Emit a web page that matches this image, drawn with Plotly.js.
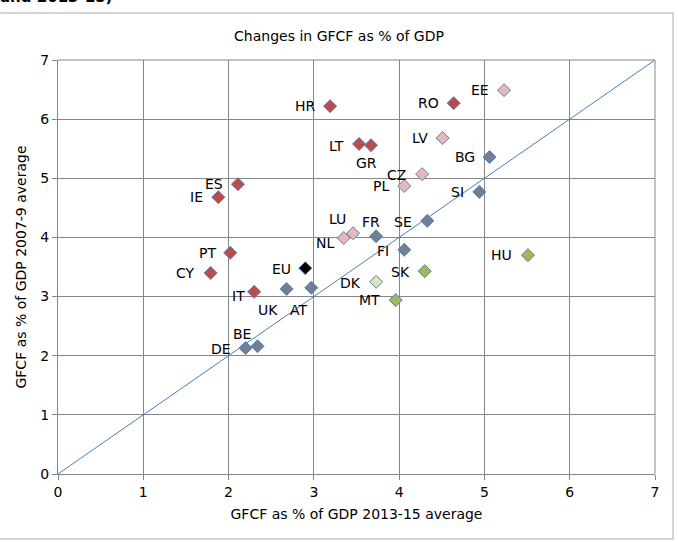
<!DOCTYPE html>
<html>
<head>
<meta charset="utf-8">
<script src="https://cdn.plot.ly/plotly-3.0.1.min.js"></script>
<style>html,body{margin:0;padding:0;background:#fff;}#chart{width:678px;height:542px;}</style>
</head>
<body>
<div id="chart"></div>
<script>
// Group 1: red
const redLabels = ["HR","RO","LT","GR","ES","IE","PT","CY","IT"];
const redX = [3.19,4.64,3.53,3.67,2.11,1.88,2.02,1.79,2.30];
const redY = [6.22,6.27,5.58,5.56,4.90,4.68,3.74,3.40,3.08];

// Group 2: pink
const pinkLabels = ["EE","LV","CZ","PL","LU","NL"];
const pinkX = [5.23,4.51,4.27,4.06,3.46,3.35];
const pinkY = [6.49,5.68,5.07,4.87,4.07,3.99];

// Group 3: grey-blue
const greyLabels = ["BG","SI","FR","SE","FI","UK","AT","BE","DE"];
const greyX = [5.06,4.94,3.73,4.33,4.06,2.68,2.97,2.34,2.20];
const greyY = [5.36,4.77,4.02,4.28,3.79,3.13,3.15,2.16,2.13];

// Group 4: green
const greenLabels = ["HU","SK","MT"];
const greenX = [5.51,4.30,3.96];
const greenY = [3.70,3.43,2.94];

// Group 5: light green
const lgLabels = ["DK"];
const lgX = [3.73];
const lgY = [3.25];

// EU
const euLabels = ["EU"];
const euX = [2.90];
const euY = [3.48];

// 45-degree reference line
const lineX = [0,7];
const lineY = [0,7];

const ticks = [0,1,2,3,4,5,6,7];

// label placement (anchor, pixel shifts) — styling only
const labelPlace = {
  HR:["right",-12,0], RO:["right",-13,0], EE:["right",-13,0], LT:["right",-13,-2],
  GR:["center",-5,-18], LV:["right",-13,0], BG:["right",-13,0], CZ:["right",-14,-1],
  PL:["right",-13,0], SI:["right",-13,0], ES:["right",-13,0], IE:["right",-13,0],
  LU:["right",-5,14], NL:["right",-8,-5], FR:["center",-5,14], SE:["right",-13,-1],
  FI:["right",-13,-1], HU:["right",-14,0], SK:["right",-13,-1], DK:["right",-13,-1],
  MT:["right",-14,0], EU:["right",-12,-1], PT:["right",-12,0], CY:["right",-14,0],
  IT:["right",-7,-4], UK:["right",-7,-21], AT:["right",-2,-22], BE:["right",-5,12],
  DE:["right",-13,-1]
};

const FONT = "Verdana, 'DejaVu Sans', sans-serif";
const border = "#5B7DB5";

function grp(labels,x,y,fill){
  return {type:"scatter",mode:"markers",x:x,y:y,text:labels,
    marker:{symbol:"diamond",size:10,color:fill,line:{color:border,width:1}},
    hoverinfo:"text",showlegend:false,cliponaxis:false};
}

const groups = [
  [redLabels,redX,redY,"#BE4B48"],
  [pinkLabels,pinkX,pinkY,"#E6B9B8"],
  [greyLabels,greyX,greyY,"#6F7F94"],
  [greenLabels,greenX,greenY,"#9BBB59"],
  [lgLabels,lgX,lgY,"#D7E4BD"],
  [euLabels,euX,euY,"#000000"]
];

const data = [
  {type:"scatter",mode:"lines",x:lineX,y:lineY,line:{color:"#4A7EBB",width:1},showlegend:false,hoverinfo:"skip"}
].concat(groups.map(g=>grp(g[0],g[1],g[2],g[3])));

const annotations = [];
groups.forEach(g=>{
  g[0].forEach((lab,i)=>{
    const p = labelPlace[lab] || ["right",-12,0];
    annotations.push({text:lab,x:g[1][i],y:g[2][i],xref:"x",yref:"y",showarrow:false,
      xanchor:p[0],yanchor:"middle",xshift:p[1],yshift:p[2],
      font:{family:FONT,size:14,color:"#000"}});
  });
});
annotations.push({text:"<b>and 2013-15)</b>",xref:"paper",yref:"paper",x:-0.1,y:(474-8)/414,xanchor:"left",yanchor:"bottom",showarrow:false,font:{family:FONT,size:15,color:"#000"}});

const layout = {
  width:678,height:542,
  margin:{l:58,r:23,t:60,b:68},
  paper_bgcolor:"#fff",plot_bgcolor:"#fff",
  font:{family:FONT,size:14,color:"#000"},
  title:{text:"Changes in GFCF as % of GDP",font:{family:FONT,size:14,color:"#000"},x:0.5,xanchor:"center",y:1-36/542,yanchor:"middle"},
  xaxis:{range:[0,7],tickvals:ticks,ticktext:ticks.map(String),showgrid:true,gridcolor:"#868686",gridwidth:1,
    showline:true,linecolor:"#868686",linewidth:1,mirror:false,ticks:"outside",ticklen:5,tickcolor:"#868686",
    zeroline:false,tickfont:{family:FONT,size:14,color:"#000"},
    title:{text:"GFCF as % of GDP 2013-15 average",font:{family:FONT,size:14,color:"#000"},standoff:10}},
  yaxis:{range:[0,7],tickvals:ticks,ticktext:ticks.map(String),showgrid:true,gridcolor:"#868686",gridwidth:1,
    showline:true,linecolor:"#868686",linewidth:1,ticks:"outside",ticklen:5,tickcolor:"#868686",
    zeroline:false,tickfont:{family:FONT,size:14,color:"#000"},
    title:{text:"GFCF as % of GDP 2007-9 average",font:{family:FONT,size:14,color:"#000"},standoff:10}},
  shapes:[
    {type:"rect",xref:"paper",yref:"paper",x0:-0.0988,x1:1.0302,y0:-0.157,y1:1.1135,line:{color:"#C8C8C8",width:1.5},fillcolor:"rgba(0,0,0,0)",layer:"below"},
    {type:"line",xref:"paper",yref:"paper",x0:1,x1:1,y0:0,y1:1,line:{color:"#868686",width:1}},
    {type:"line",xref:"paper",yref:"paper",x0:0,x1:1,y0:1,y1:1,line:{color:"#868686",width:1}}
  ],
  annotations:annotations
};

Plotly.newPlot("chart",data,layout,{displayModeBar:false,staticPlot:true});
</script>
</body>
</html>
